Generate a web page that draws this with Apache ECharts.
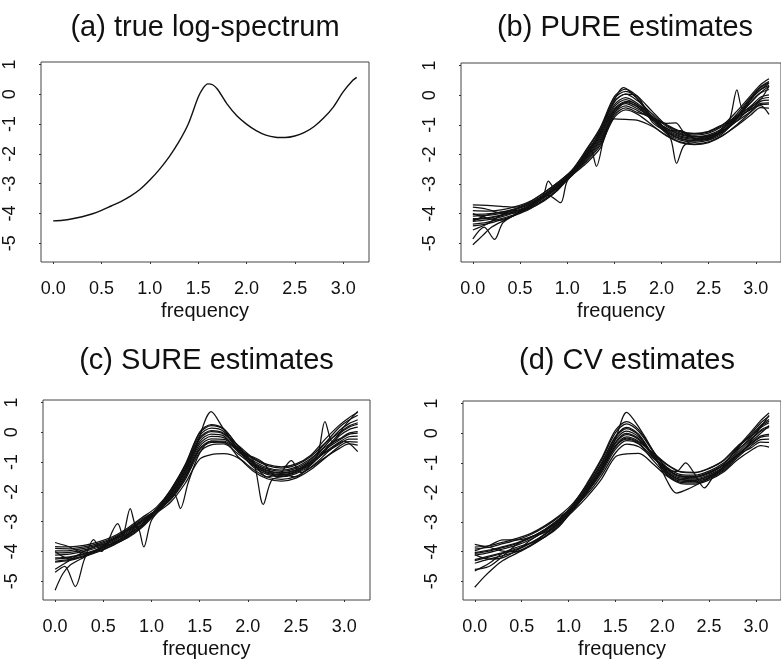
<!DOCTYPE html>
<html>
<head>
<meta charset="utf-8">
<title>log-spectrum estimates</title>
<script src="https://cdn.jsdelivr.net/npm/echarts@6/dist/echarts.min.js"></script>
<style>
  html, body { margin: 0; padding: 0; background: #fff; }
  #chart { width: 781px; height: 666px; }
</style>
</head>
<body>
<div id="chart"></div>
<script>
// panel titles
const panelTitles = ['(a) true log-spectrum', '(b) PURE estimates', '(c) SURE estimates', '(d) CV estimates']
const xTicks = [0, 0.5, 1, 1.5, 2, 2.5, 3]
const yTicks = [-5, -4, -3, -2, -1, 0, 1]

// (a) true log-spectrum
const trueFreq = [0, 0.1, 0.2, 0.3, 0.4, 0.5, 0.6, 0.7, 0.8, 0.9, 1.0, 1.1, 1.2, 1.3, 1.4, 1.5, 1.55, 1.6, 1.65, 1.7, 1.8, 1.9, 2.0, 2.1, 2.2, 2.3, 2.4, 2.5, 2.6, 2.7, 2.8, 2.9, 3.0, 3.1, 3.14]
const trueLog = [-4.25, -4.23, -4.18, -4.11, -4.02, -3.9, -3.75, -3.6, -3.42, -3.19, -2.88, -2.52, -2.1, -1.6, -0.98, -0.1, 0.2, 0.35, 0.32, 0.17, -0.33, -0.72, -1.0, -1.22, -1.37, -1.44, -1.45, -1.4, -1.28, -1.08, -0.79, -0.42, 0.08, 0.47, 0.57]

// frequencies at which the estimate curves were read
const freqGrid = [0, 0.15, 0.3, 0.45, 0.6, 0.75, 0.9, 1.05, 1.2, 1.35, 1.5, 1.62, 1.75, 1.9, 2.05, 2.2, 2.35, 2.5, 2.65, 2.8, 2.95, 3.05, 3.14]

// (b) PURE estimates
const pureEst = [
  [-3.9, -3.91, -3.87, -3.76, -3.59, -3.3, -2.95, -2.53, -1.85, -1.1, -0.05, 0.2, -0.05, -0.54, -1.01, -1.24, -1.31, -1.24, -1.01, -0.54, 0.0, 0.35, 0.55],
  [-4.02, -4.01, -3.95, -3.83, -3.65, -3.36, -3.01, -2.58, -1.95, -1.25, -0.23, 0.03, -0.05, -0.9, -1.23, -1.46, -1.53, -1.46, -1.23, -0.71, -0.09, 0.25, 0.42],
  [-3.78, -3.85, -3.98, -3.98, -3.8, -3.45, -3.07, -2.66, -2.21, -1.64, -0.68, -0.43, -0.59, -0.75, -0.99, -1.22, -1.29, -1.22, -0.99, -0.73, -0.48, -0.21, -0.17],
  [-4.2, -4.16, -4.07, -3.93, -3.74, -3.45, -3.1, -2.62, -2.01, -1.34, -0.33, -0.08, -0.29, -0.72, -1.15, -1.38, -1.45, -1.38, -1.15, -0.72, -0.24, 0.07, 0.19],
  [-4.26, -4.21, -4.11, -3.96, -3.77, -3.48, -3.13, -2.71, -2.31, -1.79, -0.8, -0.82, -0.85, -1.05, -1.35, -1.58, -1.65, -1.58, -1.35, -1.03, -0.66, -0.42, -0.44],
  [-4.25, -4.05, -3.95, -3.9, -3.82, -3.58, -3.2, -2.61, -1.89, -1.16, -0.12, 0.13, -0.11, -0.74, -1.29, -1.52, -1.59, -1.52, -1.29, -0.78, -0.15, 0.18, 0.33],
  [-4.08, -4.06, -3.99, -3.86, -3.68, -3.39, -3.04, -2.63, -2.13, -1.52, -0.54, -0.29, -0.47, -0.76, -1.2, -1.2, -1.45, -1.5, -1.1, -0.74, -0.36, -0.07, 0.01],
  [-4.41, -4.34, -4.21, -4.05, -3.85, -3.55, -3.2, -2.67, -2.05, -1.4, -0.4, -0.15, -0.35, -0.78, -1.19, -1.42, -1.49, -1.42, -1.19, -0.88, -0.54, -0.28, -0.26],
  [-4.55, -4.35, -4.05, -3.85, -3.68, -3.42, -3.12, -2.71, -2.17, -1.58, -0.61, -0.36, -0.53, -0.8, -1.11, -1.34, -1.41, -1.34, -1.11, -0.63, -0.06, 0.28, 0.46],
  [-4.0, -4.15, -4.22, -4.02, -3.72, -3.38, -3.0, -2.6, -2.09, -1.46, -0.47, -0.22, -0.41, -0.84, -1.25, -1.48, -1.55, -1.48, -1.25, -0.86, -0.42, -0.14, -0.08],
  [-4.35, -4.29, -4.17, -4.02, -3.82, -3.53, -3.18, -2.63, -1.95, -1.25, -0.23, 0.03, -0.2, -0.63, -1.05, -1.28, -1.35, -1.28, -1.05, -0.69, -0.4, -0.15, 0.3],
  [-4.17, -4.14, -4.05, -3.91, -3.73, -3.44, -3.09, -2.68, -2.25, -1.7, -0.75, -0.5, -0.65, -1.01, -1.37, -1.6, -1.67, -1.6, -1.37, -1.0, -0.57, -0.32, -0.3]
]
const pureWiggly = [
  [[0, -5.05], [0.1, -4.75], [0.2, -4.45], [0.35, -4.2], [0.5, -3.95], [0.65, -3.68], [0.8, -3.38], [0.93, -3.63], [1.0, -2.9], [1.15, -2.35], [1.3, -1.5], [1.45, -0.5], [1.6, 0.25], [1.72, -0.05], [1.85, -0.55], [2.0, -1.0], [2.1, -1.5], [2.16, -2.3], [2.24, -1.7], [2.4, -1.45], [2.55, -1.35], [2.7, -1.1], [2.85, -0.6], [3.0, -0.05], [3.14, 0.3]],
  [[0, -4.85], [0.12, -4.45], [0.23, -4.87], [0.32, -4.3], [0.5, -3.95], [0.65, -3.62], [0.75, -3.35], [0.8, -2.9], [0.88, -3.2], [1.0, -2.75], [1.15, -2.3], [1.25, -1.85], [1.31, -2.4], [1.4, -1.3], [1.5, -0.6], [1.65, -0.2], [1.8, -0.45], [1.95, -0.9], [2.1, -1.2], [2.25, -1.35], [2.4, -1.4], [2.6, -1.25], [2.72, -0.85], [2.8, 0.18], [2.86, -0.45], [3.0, 0.05], [3.14, 0.4]],
  [[0, -3.7], [0.15, -3.72], [0.3, -3.75], [0.45, -3.78], [0.6, -3.62], [0.75, -3.3], [0.9, -2.95], [1.05, -2.55], [1.2, -2.0], [1.35, -1.3], [1.5, -0.5], [1.62, -0.25], [1.75, -0.4], [1.9, -0.8], [2.05, -0.95], [2.15, -0.94], [2.25, -1.3], [2.4, -1.5], [2.6, -1.3], [2.75, -0.95], [2.9, -0.55], [3.05, -0.35], [3.14, -0.65]]
]

// (c) SURE estimates
const sureEst = [
  [-3.84, -3.85, -3.8, -3.68, -3.5, -3.22, -2.87, -2.52, -1.94, -1.11, -0.03, 0.22, 0.09, -0.46, -0.99, -1.23, -1.31, -1.21, -0.93, -0.37, 0.17, 0.41, 0.57],
  [-3.98, -3.97, -3.9, -3.77, -3.58, -3.3, -2.95, -2.61, -2.16, -1.44, -0.47, -0.22, -0.24, -0.54, -0.89, -1.12, -1.2, -1.1, -0.82, -0.37, -0.01, 0.21, 0.32],
  [-3.7, -3.85, -4.05, -3.95, -3.6, -3.42, -3.1, -2.6, -2.02, -1.23, -0.19, 0.06, -0.03, -0.59, -1.11, -1.37, -1.45, -1.35, -1.07, -0.67, -0.33, -0.15, -0.13],
  [-4.26, -4.21, -4.1, -3.95, -3.74, -3.46, -3.11, -2.71, -2.34, -1.71, -0.9, -0.75, -0.72, -0.86, -1.23, -1.5, -1.58, -1.48, -1.2, -0.85, -0.54, -0.39, -0.43],
  [-4.36, -4.3, -4.17, -4.01, -3.8, -3.52, -3.17, -2.6, -1.92, -1.08, 0.01, 0.26, 0.12, -0.49, -1.05, -1.3, -1.38, -1.28, -1.0, -0.46, 0.06, 0.29, 0.42],
  [-4.05, -4.03, -3.95, -3.81, -3.62, -3.34, -2.99, -2.6, -2.08, -1.32, -0.31, -0.06, -0.12, -0.66, -1.0, -1.5, -1.4, -1.5, -1.1, -0.63, -0.12, 0.09, 0.17],
  [-4.6, -4.3, -4.0, -3.8, -3.75, -3.55, -3.2, -2.7, -2.2, -1.5, -0.55, -0.3, -0.3, -0.6, -0.95, -1.19, -1.27, -1.17, -0.89, -0.5, -0.22, -0.03, 0.02],
  [-3.9, -3.91, -3.85, -3.73, -3.54, -3.26, -2.91, -2.63, -2.26, -1.59, -0.67, -0.42, -0.39, -0.73, -1.09, -1.34, -1.42, -1.32, -1.04, -0.69, -0.4, -0.23, -0.23],
  [-4.22, -4.18, -4.07, -3.92, -3.72, -3.44, -3.09, -2.61, -2.04, -1.26, -0.23, 0.02, -0.06, -0.44, -0.85, -1.08, -1.16, -1.06, -0.78, -0.24, 0.24, 0.49, 0.67],
  [-4.0, -4.25, -4.15, -3.9, -3.6, -3.3, -2.98, -2.61, -2.12, -1.38, -0.39, -0.14, -0.18, -0.6, -1.03, -1.28, -1.36, -1.26, -0.98, -0.58, -0.26, -0.07, -0.03],
  [-4.33, -4.27, -4.15, -3.99, -3.78, -3.5, -3.15, -2.61, -1.98, -1.17, -0.11, 0.14, 0.03, -0.59, -1.15, -1.41, -1.49, -1.39, -1.11, -0.58, -0.05, 0.17, 0.27],
  [-4.12, -4.09, -4.0, -3.86, -3.66, -3.38, -3.03, -2.65, -2.22, -1.53, -0.59, -0.34, -0.33, -0.83, -1.29, -1.56, -1.64, -1.54, -1.26, -0.87, -0.47, -0.31, -0.33]
]
const sureWiggly = [
  [[0, -5.3], [0.08, -4.75], [0.16, -4.45], [0.3, -4.2], [0.45, -3.95], [0.6, -3.7], [0.7, -3.5], [0.78, -2.56], [0.85, -3.2], [1.0, -2.75], [1.15, -2.35], [1.3, -1.6], [1.45, -0.6], [1.62, 0.69], [1.75, 0.1], [1.9, -0.55], [2.05, -0.9], [2.16, -2.42], [2.25, -1.6], [2.4, -1.45], [2.6, -1.15], [2.72, -0.8], [2.8, 0.36], [2.88, -0.35], [3.0, 0.2], [3.14, 0.7]],
  [[0, -4.7], [0.1, -4.5], [0.21, -5.18], [0.3, -4.3], [0.4, -3.6], [0.48, -4.0], [0.65, -3.07], [0.72, -3.55], [0.85, -3.15], [0.92, -3.85], [1.0, -2.95], [1.15, -2.4], [1.24, -2.1], [1.3, -2.56], [1.38, -1.7], [1.5, -0.7], [1.62, -0.3], [1.8, -0.4], [1.95, -0.75], [2.05, -0.82], [2.15, -1.0], [2.3, -1.5], [2.45, -0.95], [2.55, -1.35], [2.7, -1.05], [2.85, -0.6], [3.0, -0.3], [3.14, -0.65]]
]

// (d) CV estimates
const cvEst = [
  [-3.85, -3.8, -3.68, -3.55, -3.38, -3.12, -2.79, -2.36, -1.72, -0.93, 0.01, 0.31, 0.05, -0.61, -1.21, -1.46, -1.48, -1.34, -1.08, -0.53, -0.01, 0.34, 0.57],
  [-3.97, -3.8, -3.6, -3.6, -3.5, -3.25, -2.9, -2.47, -1.94, -1.26, -0.43, -0.13, -0.28, -0.66, -1.07, -1.32, -1.34, -1.2, -0.94, -0.48, -0.1, 0.22, 0.41],
  [-3.75, -3.85, -3.98, -4.0, -3.78, -3.4, -3.0, -2.48, -1.8, -1.05, -0.15, 0.15, -0.07, -0.74, -1.33, -1.58, -1.6, -1.46, -1.2, -0.74, -0.34, -0.1, -0.04],
  [-4.3, -4.18, -4.06, -3.93, -3.71, -3.42, -3.06, -2.63, -2.14, -1.56, -0.8, -0.7, -0.68, -1.03, -1.45, -1.7, -1.72, -1.58, -1.32, -0.91, -0.58, -0.42, -0.47],
  [-4.06, -3.98, -3.86, -3.73, -3.53, -3.26, -2.92, -2.4, -1.68, -0.87, 0.09, 0.39, 0.11, -0.58, -1.19, -1.44, -1.46, -1.32, -1.06, -0.49, 0.05, 0.42, 0.68],
  [-4.39, -4.25, -4.13, -4.0, -3.78, -3.48, -3.11, -2.56, -1.9, -1.2, -0.35, -0.05, -0.22, -0.69, -1.15, -1.4, -1.42, -1.28, -1.02, -0.56, -0.19, 0.1, 0.24],
  [-4.12, -4.03, -3.91, -3.78, -3.58, -3.3, -2.95, -2.53, -2.0, -1.35, -0.55, -0.25, -0.37, -0.91, -1.41, -1.66, -1.68, -1.54, -1.28, -0.83, -0.43, -0.22, -0.2],
  [-4.65, -4.4, -4.05, -3.85, -3.7, -3.5, -3.15, -2.55, -1.84, -1.11, -0.23, 0.07, -0.13, -0.73, -1.27, -1.52, -1.54, -1.4, -1.14, -0.61, -0.13, 0.18, 0.35],
  [-3.91, -3.85, -3.73, -3.6, -3.42, -3.16, -2.83, -2.5, -2.06, -1.44, -0.67, -0.37, -0.46, -0.84, -1.23, -1.48, -1.5, -1.36, -1.1, -0.74, -0.49, -0.3, -0.31],
  [-4.1, -4.25, -4.2, -3.95, -3.6, -3.3, -2.97, -2.49, -1.88, -1.17, -0.31, -0.01, -0.19, -0.78, -1.31, -1.56, -1.58, -1.44, -1.18, -0.68, -0.22, 0.06, 0.19],
  [-4.27, -4.15, -4.03, -3.9, -3.69, -3.4, -3.04, -2.55, -1.96, -1.29, -0.47, -0.17, -0.31, -0.66, -1.05, -1.3, -1.32, -1.18, -0.92, -0.45, -0.07, 0.26, 0.46],
  [-4.03, -3.95, -3.83, -3.7, -3.51, -3.24, -2.9, -2.43, -1.78, -1.02, -0.11, 0.19, -0.04, -0.75, -1.37, -1.62, -1.64, -1.5, -1.24, -0.78, -0.37, -0.14, -0.09]
]
const cvWiggly = [
  [[0, -5.2], [0.1, -4.85], [0.2, -4.55], [0.3, -4.3], [0.45, -4.05], [0.6, -3.8], [0.75, -3.5], [0.9, -3.1], [1.05, -2.6], [1.2, -2.0], [1.35, -1.2], [1.5, -0.2], [1.62, 0.7], [1.75, 0.2], [1.9, -0.6], [2.05, -1.6], [2.15, -2.02], [2.3, -1.85], [2.45, -1.6], [2.6, -1.3], [2.75, -0.9], [2.9, -0.45], [3.05, 0.2], [3.14, 0.6]],
  [[0, -4.6], [0.15, -4.5], [0.3, -4.15], [0.45, -3.75], [0.6, -3.5], [0.75, -3.35], [0.9, -3.0], [1.05, -2.55], [1.2, -1.95], [1.35, -1.25], [1.5, -0.45], [1.62, -0.2], [1.75, -0.35], [1.9, -0.8], [2.05, -1.2], [2.15, -1.3], [2.25, -1.0], [2.35, -1.4], [2.45, -1.85], [2.55, -1.45], [2.7, -1.05], [2.85, -0.6], [3.0, -0.15], [3.14, 0.25]]
]

const chart = echarts.init(document.getElementById('chart'), null, { renderer: 'canvas' })
const fontFamily = 'Liberation Sans, Arial, Helvetica, sans-serif'

// panel boxes, in pixels
const boxes = [
  { left: 41, top: 62, width: 328, height: 200 },
  { left: 461, top: 63, width: 328, height: 199 },
  { left: 43, top: 400, width: 327, height: 200 },
  { left: 463, top: 401, width: 328, height: 199 }
]
const titleTops = [13, 13, 346, 346]

function makeX(i) {
  return {
    type: 'value',
    gridIndex: i,
    min: -0.1257,
    max: 3.2673,
    splitLine: { show: false },
    axisLine: { show: false, onZero: false },
    axisTick: { show: true, length: 2, customValues: xTicks, lineStyle: { color: '#333' } },
    axisLabel: {
      customValues: xTicks,
      formatter: (v) => v.toFixed(1),
      margin: 18,
      fontSize: 18,
      color: '#111',
      fontFamily: fontFamily
    },
    name: 'frequency',
    nameLocation: 'middle',
    nameGap: 39,
    nameTextStyle: { fontSize: 20, color: '#111', fontFamily: fontFamily }
  }
}

function makeY(i) {
  return {
    type: 'value',
    gridIndex: i,
    min: -5.63,
    max: 1.084,
    splitLine: { show: false },
    axisLine: { show: false, onZero: false },
    axisTick: { show: true, length: 2, customValues: yTicks, lineStyle: { color: '#333' } },
    axisLabel: {
      customValues: yTicks,
      rotate: 90,
      margin: 22,
      fontSize: 18,
      color: '#111',
      fontFamily: fontFamily
    }
  }
}

function lineSeries(i, data, width) {
  return {
    type: 'line',
    xAxisIndex: i,
    yAxisIndex: i,
    data: data,
    smooth: 0.3,
    showSymbol: false,
    silent: true,
    lineStyle: { color: '#111', width: width }
  }
}

const series = [lineSeries(0, trueFreq.map((f, k) => [f, trueLog[k]]), 1.4)]
const groups = [[pureEst, pureWiggly], [sureEst, sureWiggly], [cvEst, cvWiggly]]
groups.forEach(([est, wiggly], g) => {
  est.forEach((ys) => {
    series.push(lineSeries(g + 1, freqGrid.map((f, k) => [f, ys[k]]), 1.25))
  })
  wiggly.forEach((pts) => {
    series.push(lineSeries(g + 1, pts, 1.25))
  })
})

const option = {
  backgroundColor: '#fff',
  animation: false,
  title: panelTitles.map((t, i) => ({
    text: t,
    left: boxes[i].left + boxes[i].width / 2,
    top: titleTops[i],
    textAlign: 'center',
    padding: 0,
    textStyle: { fontSize: 29, fontWeight: 'normal', color: '#111', fontFamily: fontFamily }
  })),
  grid: boxes.map((b) => ({
    left: b.left,
    top: b.top,
    width: b.width,
    height: b.height,
    show: true,
    borderColor: '#444',
    borderWidth: 1,
    backgroundColor: 'transparent'
  })),
  xAxis: boxes.map((b, i) => makeX(i)),
  yAxis: boxes.map((b, i) => makeY(i)),
  series: series
}
chart.setOption(option)
</script>
</body>
</html>
